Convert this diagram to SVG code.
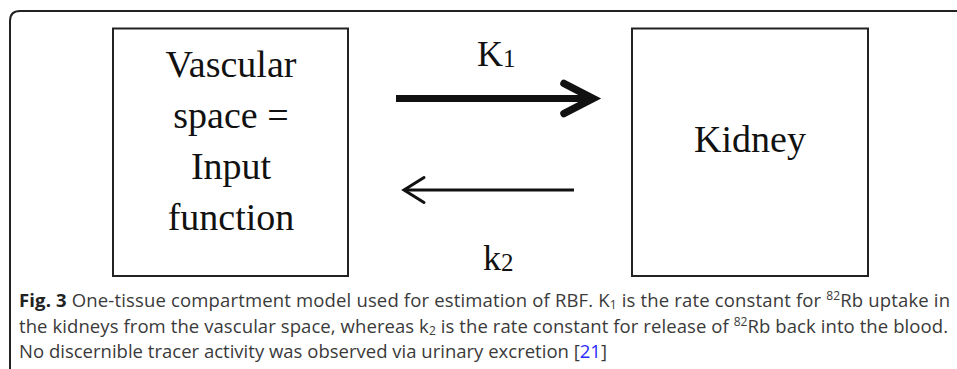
<svg xmlns="http://www.w3.org/2000/svg" width="957" height="369" viewBox="0 0 957 369">
<style>
.frame{fill:none;stroke:#222;stroke-width:2}
.box{fill:#fff;stroke:#222;stroke-width:2}
.lbl{font-family:"Liberation Serif",serif;font-size:38px;fill:#111;text-anchor:middle}
.k{font-family:"Liberation Serif",serif;font-size:36px;fill:#111}
.cap{font-family:"Open Sans",sans-serif;font-size:18.5px;fill:#3a3a3a}
.b{font-weight:bold;fill:#222}
.link{fill:#2a2aff}
.sub{font-size:12px}
</style>
<rect width="957" height="369" fill="#fff"/>
<path class="frame" d="M10,369 V21 Q10,11 20,11 H957"/>
<g id="vascular">
<rect class="box" x="113" y="28.5" width="235" height="247.5"/>
<text class="lbl" x="231" y="77">Vascular</text>
<text class="lbl" x="231" y="128">space =</text>
<text class="lbl" x="231" y="179">Input</text>
<text class="lbl" x="231" y="230">function</text>
</g>
<g id="kidney">
<rect class="box" x="632" y="28.5" width="236" height="247.5"/>
<text class="lbl" x="750" y="152">Kidney</text>
</g>
<g id="connectors">
<g id="k1arrow">
<line x1="396" y1="98.5" x2="590" y2="98.5" stroke="#111" stroke-width="7"/>
<polyline points="564,83.5 593,98.5 564,113.5" fill="none" stroke="#111" stroke-width="7.5" stroke-linecap="round" stroke-linejoin="miter"/>
<text class="k" x="477" y="66">K<tspan font-size="25" dy="1">1</tspan></text>
</g>
<g id="k2arrow">
<line x1="406" y1="190" x2="574" y2="190" stroke="#111" stroke-width="3"/>
<polyline points="424,177.5 404,190 424,202.5" fill="none" stroke="#111" stroke-width="3" stroke-linecap="round"/>
<text class="k" x="483" y="270">k<tspan font-size="25" dy="1">2</tspan></text>
</g>
</g>
<g id="caption">
<text class="cap" x="19" y="307" textLength="931" lengthAdjust="spacing"><tspan class="b">Fig. 3</tspan> One-tissue compartment model used for estimation of RBF. K<tspan class="sub" dy="2">1</tspan><tspan dy="-2"> is the rate constant for </tspan><tspan class="sub" dy="-7">82</tspan><tspan dy="7">Rb uptake in</tspan></text>
<text class="cap" x="19" y="333" textLength="929" lengthAdjust="spacing">the kidneys from the vascular space, whereas k<tspan class="sub" dy="2">2</tspan><tspan dy="-2"> is the rate constant for release of </tspan><tspan class="sub" dy="-7">82</tspan><tspan dy="7">Rb back into the blood.</tspan></text>
<text class="cap" x="19" y="358" textLength="588" lengthAdjust="spacing">No discernible tracer activity was observed via urinary excretion [<tspan class="link">21</tspan>]</text>
</g>
</svg>
